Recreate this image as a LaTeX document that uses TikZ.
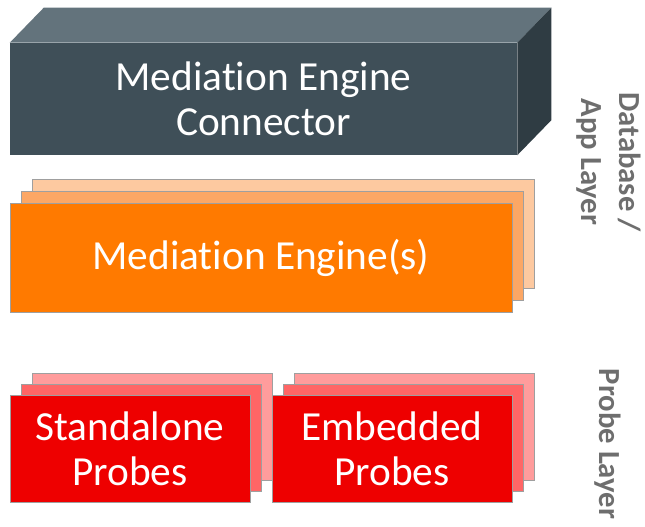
\documentclass[tikz,border=0pt]{standalone}
\usepackage{fontspec}
\setmainfont{Carlito}[RawFeature=-liga]
\usepackage{tikz}
\usetikzlibrary{positioning,calc}
\definecolor{connfront}{HTML}{3F4F58}
\definecolor{conntop}{HTML}{63737C}
\definecolor{connside}{HTML}{2F3C43}
\definecolor{engfront}{HTML}{FF7A00}
\definecolor{engmid}{HTML}{FCA765}
\definecolor{engback}{HTML}{FDC9A0}
\definecolor{probefront}{HTML}{EE0000}
\definecolor{probemid}{HTML}{FF6666}
\definecolor{probeback}{HTML}{FF9C9C}
\definecolor{layergray}{HTML}{6E6E6E}

\begin{document}
\begin{tikzpicture}[
    x=0.75pt, y=-0.75pt,
    every node/.style={inner sep=0pt, align=center},
    boxtext/.style={text=white, font=\fontsize{31}{34}\selectfont},
    conn/.style={fill=connfront, minimum width=380.25pt, minimum height=84pt, boxtext},
    widecard/.style={draw=gray!75, line width=0.6pt, minimum width=376.5pt, minimum height=81.75pt},
    probecard/.style={draw=gray!75, line width=0.6pt, minimum width=180pt, minimum height=80.25pt},
    layerlabel/.style={rotate=-90, text=layergray, font=\bfseries\fontsize{23}{28.5}\selectfont},
]
    \useasboundingbox (0,0) rectangle (645,527);

    % connector block
    \node[conn] (conn) at (263.5,99) {Mediation Engine\\Connector};
    \fill[conntop] (conn.north west) -- ++(34,-35) -- ($(conn.north east)+(34,-35)$)
        -- (conn.north east) -- cycle;
    \fill[connside] (conn.north east) -- ++(34,-35) -- ($(conn.south east)+(34,-35)$)
        -- (conn.south east) -- cycle;

    % engine stack
    \coordinate (engpos) at (261,257.5);
    \node[widecard, fill=engback] (eng3) at ($(engpos)+(22,-24)$) {};
    \node[widecard, fill=engmid] (eng2) at ($(engpos)+(11,-12)$) {};
    \node[widecard, fill=engfront, boxtext] (eng) at (engpos) {Mediation Engine(s)};

    % probe stacks
    \coordinate (sapos) at (130,448.5);
    \coordinate (empos) at (392,448.5);
    \node[probecard, fill=probeback] (sa3) at ($(sapos)+(22,-22)$) {};
    \node[probecard, fill=probemid] (sa2) at ($(sapos)+(11,-11)$) {};
    \node[probecard, fill=probefront, boxtext] (sa) at (sapos) {Standalone\\Probes};
    \node[probecard, fill=probeback] (em3) at ($(empos)+(22,-22)$) {};
    \node[probecard, fill=probemid] (em2) at ($(empos)+(11,-11)$) {};
    \node[probecard, fill=probefront, boxtext] (em) at (empos) {Embedded\\Probes};

    % layer labels
    \node[layerlabel] (dblayer) at (609,162) {Database /\\App Layer};
    \node[layerlabel] (probelayer) at (608,444) {Probe Layer};
\end{tikzpicture}
\end{document}
